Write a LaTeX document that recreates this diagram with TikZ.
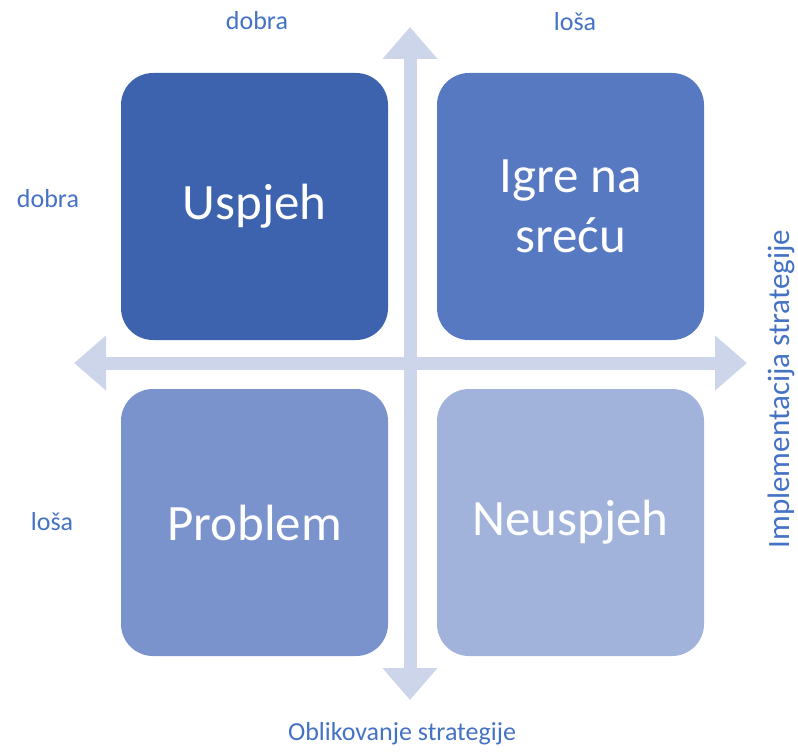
\documentclass[tikz,border=0pt]{standalone}
\usepackage{fontspec}
\setmainfont{Carlito}
\usetikzlibrary{arrows.meta}
\definecolor{arrowc}{HTML}{CDD5EB}
\definecolor{labc}{HTML}{4472C4}
\definecolor{qa}{HTML}{3D63AE}
\definecolor{qb}{HTML}{5779C1}
\definecolor{qc}{HTML}{7B93CD}
\definecolor{qd}{HTML}{A1B2DB}
\tikzset{
  quad/.style={rounded corners=32pt, minimum width=267pt, minimum height=267pt, text=white, font=\fontsize{51}{60}\selectfont, align=center, inner sep=0pt},
  lab/.style={text=labc, font=\fontsize{26}{30}\selectfont, inner sep=0pt},
  axis/.style={draw=arrowc, line width=13pt, {Triangle[width=53pt,length=32pt]}-{Triangle[width=53pt,length=32pt]}}
}
\begin{document}
\begin{tikzpicture}[x=1pt,y=-1pt]
\useasboundingbox (0,0) rectangle (798,752);
\coordinate (vt) at (410,27);
\coordinate (vb) at (410,700);
\coordinate (hl) at (74,363);
\coordinate (hr) at (747,363);
\draw[axis] (vb) -- (vt);
\draw[axis] (hl) -- (hr);
\node[quad, fill=qa] (q1) at (254.5,206.5) {Uspjeh};
\node[quad, fill=qb] (q2) at (570.5,206.5) {Igre na\\sreću};
\node[quad, fill=qc] (q3) at (254.5,522.5) {Problem};
\node[quad, fill=qd] (q4) at (570.5,522.5) {Neuspjeh};
\node[lab] (t1) at (257,21) {dobra};
\node[lab] (t2) at (575,22) {loša};
\node[lab] (l1) at (48,199) {dobra};
\node[lab] (l2) at (52,522) {loša};
\node[lab] (bx) at (402,734) {Oblikovanje strategije};
\node[lab, rotate=90, font=\fontsize{31}{36}\selectfont] (ry) at (781,389) {Implementacija strategije};
\end{tikzpicture}
\end{document}
